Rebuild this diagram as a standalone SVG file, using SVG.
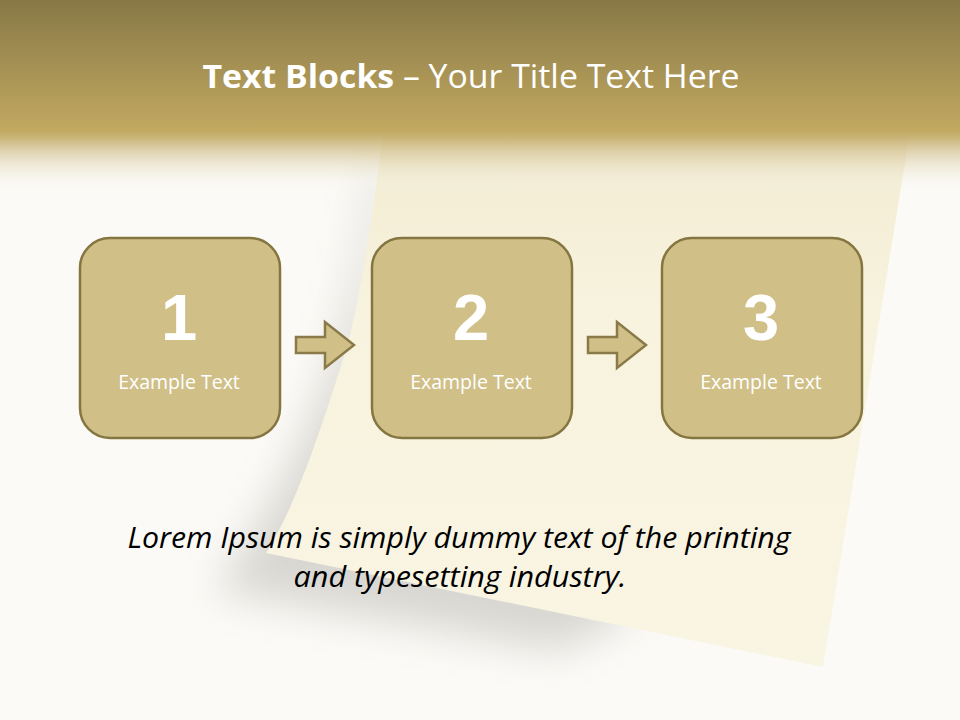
<svg xmlns="http://www.w3.org/2000/svg" width="960" height="720" viewBox="0 0 960 720">
<defs>
<linearGradient id="hdr" x1="0" y1="0" x2="0" y2="1">
<stop offset="0" stop-color="#877846"/>
<stop offset="0.68" stop-color="#c2a961"/>
<stop offset="0.72" stop-color="#c8b274" stop-opacity="0.95"/>
<stop offset="1" stop-color="#fbfaf6" stop-opacity="0"/>
</linearGradient>
<linearGradient id="paper" x1="0" y1="0" x2="0" y2="1">
<stop offset="0" stop-color="#f2ebd2"/>
<stop offset="0.35" stop-color="#f8f3de"/>
<stop offset="1" stop-color="#f9f5e3"/>
</linearGradient>
<filter id="blur" x="-30%" y="-30%" width="160%" height="160%">
<feGaussianBlur stdDeviation="20"/>
</filter>
<style>
.box{fill:#d0c088;stroke:#857540;stroke-width:2.5}
.num{font-family:"Liberation Sans",Arial,sans-serif;font-weight:bold;font-size:65px;fill:#ffffff;text-anchor:middle}
.lbl{font-family:"Open Sans","Liberation Sans",sans-serif;font-size:19.5px;fill:#ffffff;text-anchor:middle}
.arr{fill:#d0c088;stroke:#8a7a4a;stroke-width:2.5}
.body{font-family:"Open Sans","Liberation Sans",sans-serif;font-style:italic;font-size:29px;fill:#000000;text-anchor:middle}
</style>
</defs>
<rect width="960" height="720" fill="#fbfaf6"/>
<!-- paper shadow -->
<path d="M372,160 C360,300 325,440 215,590 L560,650 L640,610 L520,540 C450,520 380,480 362,420 C370,330 380,240 385,170 Z" fill="#a8a6a0" opacity="0.42" filter="url(#blur)"/>
<!-- paper -->
<path d="M385,120 L912,120 L823,667 L266,553 C300,500 330,400 347,347 C360,300 375,200 385,120 Z" fill="url(#paper)"/>
<!-- header -->
<rect x="0" y="0" width="960" height="192" fill="url(#hdr)"/>
<g id="title">
<text x="471" y="88" text-anchor="middle" font-family="'Open Sans','Liberation Sans',sans-serif" font-size="33" fill="#ffffff" textLength="537" lengthAdjust="spacingAndGlyphs"><tspan font-weight="bold">Text Blocks</tspan> – Your Title Text Here</text>
</g>
<g id="connectors">
<path class="arr" d="M296,337 L325,337 L325,322 L354,345 L325,368 L325,353 L296,353 Z"/>
<path class="arr" d="M588,337 L617,337 L617,322 L646,345 L617,368 L617,353 L588,353 Z"/>
</g>
<g id="node1">
<rect class="box" x="80" y="238" width="200" height="200" rx="30"/>
<text class="num" x="179" y="340">1</text>
<text class="lbl" x="179" y="389">Example Text</text>
</g>
<g id="node2">
<rect class="box" x="372" y="238" width="200" height="200" rx="30"/>
<text class="num" x="471" y="340">2</text>
<text class="lbl" x="471" y="389">Example Text</text>
</g>
<g id="node3">
<rect class="box" x="662" y="238" width="200" height="200" rx="30"/>
<text class="num" x="761" y="340">3</text>
<text class="lbl" x="761" y="389">Example Text</text>
</g>
<g id="body">
<text class="body" x="459" y="548" textLength="663" lengthAdjust="spacingAndGlyphs">Lorem Ipsum is simply dummy text of the printing</text>
<text class="body" x="460" y="587" textLength="333" lengthAdjust="spacingAndGlyphs">and typesetting industry.</text>
</g>
</svg>
